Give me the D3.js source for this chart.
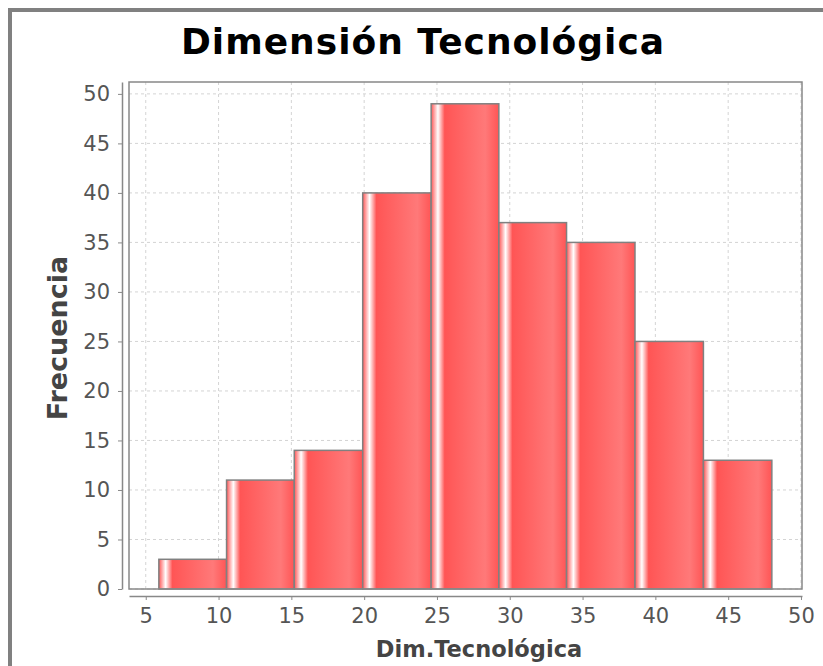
<!DOCTYPE html>
<html>
<head>
<meta charset="utf-8">
<script src="https://cdn.jsdelivr.net/npm/d3@7"></script>
<style>
  body { margin: 0; background: #fff; }
  text { font-family: "DejaVu Sans", sans-serif; }
</style>
</head>
<body>
<div id="chart-area"></div>
<script>
// histogram data
var binEdges = [5.9, 10.55, 15.2, 19.9, 24.6, 29.25, 33.9, 38.6, 43.3, 48.0];
var frequencies = [3, 11, 14, 40, 49, 37, 35, 25, 13];
var xTicks = [5, 10, 15, 20, 25, 30, 35, 40, 45, 50];
var yTicks = [0, 5, 10, 15, 20, 25, 30, 35, 40, 45, 50];

var bins = frequencies.map(function(f, i) {
    return { x0: binEdges[i], x1: binEdges[i + 1], count: f };
});

var margin = { left: 129, right: 21, top: 82, bottom: 77 };
var width = 823 - margin.left - margin.right,
    height = 666 - margin.top - margin.bottom;

var svg = d3.select("#chart-area")
    .append("svg")
        .attr("width", 823)
        .attr("height", 666);

// outer frame
svg.append("rect")
    .attr("x", 10)
    .attr("y", 10)
    .attr("width", 830)
    .attr("height", 700)
    .attr("fill", "none")
    .attr("stroke", "#808080")
    .attr("stroke-width", 4);

var defs = svg.append("defs");
var grad = defs.append("linearGradient")
    .attr("id", "barGrad")
    .attr("x1", 0).attr("x2", 1).attr("y1", 0).attr("y2", 0);
[[0, "#ff5555"], [0.1, "#ffffff"], [0.2, "#ff5555"], [0.8, "#ff7979"], [1, "#ff5555"]]
    .forEach(function(s) {
        grad.append("stop").attr("offset", s[0]).attr("stop-color", s[1]);
    });

// Title
svg.append("text")
    .attr("x", 423)
    .attr("y", 54)
    .attr("text-anchor", "middle")
    .attr("font-size", "36px")
    .attr("font-weight", "bold")
    .attr("letter-spacing", "1px")
    .attr("fill", "#000")
    .text("Dimensión Tecnológica");

var g = svg.append("g")
    .attr("transform", "translate(" + margin.left + ", " + margin.top + ")");

// X Scale
var x = d3.scaleLinear()
    .domain([3.85, 50.07])
    .range([0, width]);

// Y Scale
var y = d3.scaleLinear()
    .domain([0, 51.2])
    .range([height, 0]);

// gridlines
g.selectAll(".vgrid")
    .data(xTicks)
    .enter().append("line")
        .attr("x1", function(d) { return x(d); })
        .attr("x2", function(d) { return x(d); })
        .attr("y1", 0)
        .attr("y2", height)
        .attr("stroke", "#d4d4d4")
        .attr("stroke-dasharray", "3,3");

g.selectAll(".hgrid")
    .data(yTicks)
    .enter().append("line")
        .attr("x1", 0)
        .attr("x2", width)
        .attr("y1", function(d) { return y(d); })
        .attr("y2", function(d) { return y(d); })
        .attr("stroke", "#d4d4d4")
        .attr("stroke-dasharray", "3,3");

// Bars
g.selectAll(".bar")
    .data(bins)
    .enter().append("rect")
        .attr("x", function(d) { return x(d.x0); })
        .attr("y", function(d) { return y(d.count); })
        .attr("width", function(d) { return x(d.x1) - x(d.x0); })
        .attr("height", function(d) { return height - y(d.count); })
        .attr("fill", "url(#barGrad)")
        .attr("stroke", "#808080")
        .attr("stroke-width", 1.5);

// plot outline
g.append("rect")
    .attr("x", 0)
    .attr("y", 0)
    .attr("width", width)
    .attr("height", height)
    .attr("fill", "none")
    .attr("stroke", "#888")
    .attr("stroke-width", 1.5);

// X Axis
var xAxisGroup = g.append("g")
    .attr("transform", "translate(0," + (height + 7) + ")")
    .call(d3.axisBottom(x).tickValues(xTicks).tickSizeInner(4).tickSizeOuter(0).tickPadding(8));

// Y Axis
var yAxisGroup = g.append("g")
    .attr("transform", "translate(-7,0)")
    .call(d3.axisLeft(y).tickValues(yTicks).tickSizeInner(4).tickSizeOuter(0).tickPadding(8));

[xAxisGroup, yAxisGroup].forEach(function(ax) {
    ax.select(".domain").attr("stroke", "#888").attr("stroke-width", 1.5);
    ax.selectAll(".tick line").attr("stroke", "#888");
    ax.selectAll(".tick text")
        .attr("font-family", "DejaVu Sans, sans-serif")
        .attr("font-size", "21px")
        .attr("fill", "#555");
});

// X Label
g.append("text")
    .attr("x", 479 - margin.left)
    .attr("y", 657 - margin.top)
    .attr("text-anchor", "middle")
    .attr("font-size", "22.5px")
    .attr("font-weight", "bold")
    .attr("fill", "#444")
    .text("Dim.Tecnológica");

// Y Label
g.append("text")
    .attr("x", -(338 - margin.top))
    .attr("y", -62)
    .attr("transform", "rotate(-90)")
    .attr("text-anchor", "middle")
    .attr("font-size", "27px")
    .attr("font-weight", "bold")
    .attr("fill", "#444")
    .text("Frecuencia");
</script>
</body>
</html>
